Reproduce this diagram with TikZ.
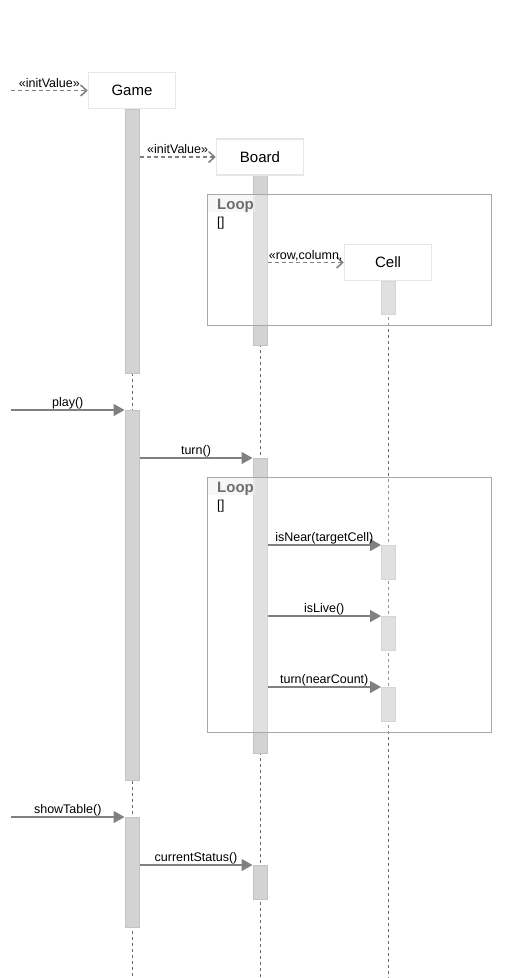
\documentclass[tikz,border=0pt]{standalone}
\usepackage{fontspec}
\setmainfont{Liberation Sans}
\usetikzlibrary{arrows.meta}
\definecolor{linegray}{HTML}{808080}
\definecolor{barfill}{HTML}{D3D3D3}
\definecolor{bardraw}{HTML}{C4C4C4}
\definecolor{boxdraw}{HTML}{E6E6E6}
\definecolor{framedraw}{HTML}{A8A8A8}
\definecolor{looptext}{HTML}{6E6E6E}
\definecolor{lifecol}{HTML}{6A6A6A}
\definecolor{loopbg}{HTML}{F2F2F2}
\pgfdeclarelayer{fg}
\pgfsetlayers{main,fg}
\begin{document}
\begin{tikzpicture}[x=1pt,y=-1pt,
 actor/.style={draw=boxdraw, line width=1.5pt, fill=white, minimum width=87pt, minimum height=36pt, inner sep=0, font=\fontsize{15}{18}\selectfont},
 bar/.style={draw=bardraw, fill=barfill, line width=1pt, minimum width=14pt, inner sep=0, anchor=north},
 lifeline/.style={draw=lifecol, line width=0.8pt, dash pattern=on 3pt off 3pt},
 msg/.style={draw=linegray, line width=1.6pt, -{Triangle[length=11pt,width=12pt]}},
 create/.style={draw=linegray, line width=1.5pt, dash pattern=on 4pt off 3pt, -{Straight Barb[length=6pt,width=11pt]}},
 lbl/.style={font=\fontsize{12.5}{14}\selectfont, anchor=base, inner sep=0, yshift=3.5pt},
 frame/.style={draw=framedraw, line width=1pt, fill=white, fill opacity=0.3, anchor=north west, inner sep=0},
 looplbl/.style={anchor=base west, inner sep=0, font=\bfseries\fontsize{15}{18}\selectfont, text=looptext},
 guard/.style={anchor=base west, inner sep=0, font=\fontsize{13}{15}\selectfont},
]
\useasboundingbox (0,0) rectangle (532,978);

% actors (foreground layer)
\begin{pgfonlayer}{fg}
\node[actor] (game) at (132,90.5) {Game};
\node[actor] (board) at (260,157) {Board};
\node[actor] (cell) at (388,262.5) {Cell};
\end{pgfonlayer}

% lifelines
\draw[lifeline] (game.south) -- (game.south |- 0,978);
\draw[lifeline] (board.south) -- (board.south |- 0,978);
\draw[lifeline] (cell.south) -- (cell.south |- 0,978);

% activation bars
\node[bar, minimum height=264pt] (g1) at (132,109) {};
\node[bar, minimum height=370pt] (g2) at (132,410) {};
\node[bar, minimum height=110pt] (g3) at (132,817) {};
\node[bar, minimum height=170pt] (b1) at (260,175) {};
\node[bar, minimum height=295pt] (b2) at (260,458) {};
\node[bar, minimum height=34pt] (b3) at (260,865) {};
\node[bar, minimum height=33pt] (c1) at (388.5,281) {};
\node[bar, minimum height=34pt] (c2) at (388.5,545) {};
\node[bar, minimum height=34pt] (c3) at (388.5,616) {};
\node[bar, minimum height=34pt] (c4) at (388.5,687) {};

% loop frames
\node[frame, minimum width=284pt, minimum height=131pt] (loop1) at (207,194) {};
\fill[loopbg, opacity=0.6] (207.5,194.5) rectangle (255,212);
\node[looplbl] (loop1t) at (217,209) {Loop};
\node[guard] (loop1g) at (217,226) {[]};

\node[frame, minimum width=284pt, minimum height=255pt] (loop2) at (207,477) {};
\fill[loopbg, opacity=0.6] (207.5,477.5) rectangle (255,495);
\node[looplbl] (loop2t) at (217,492) {Loop};
\node[guard] (loop2g) at (217,509) {[]};

% external start points
\coordinate (e0) at (11,90.5);
\coordinate (e1) at (11,410);
\coordinate (e2) at (11,817);

% messages
\draw[create] (e0) -- node[lbl] {«initValue»} (game.west);
\draw[create] (g1.east |- board.west) -- node[lbl] {«initValue»} (board.west);
\draw[create] (b1.east |- cell.west) -- node[lbl] {«row,column,} (cell.west);

\draw[msg] (e1) -- node[lbl] {play()} (g2.north west);
\draw[msg] (g2.east |- b2.north) -- node[lbl] {turn()} (b2.north west);
\draw[msg] (b2.east |- c2.north) -- node[lbl] {isNear(targetCell)} (c2.north west);
\draw[msg] (b2.east |- c3.north) -- node[lbl] {isLive()} (c3.north west);
\draw[msg] (b2.east |- c4.north) -- node[lbl] {turn(nearCount)} (c4.north west);

\draw[msg] (e2) -- node[lbl] {showTable()} (g3.north west);
\draw[msg] (g3.east |- b3.north) -- node[lbl] {currentStatus()} (b3.north west);
\end{tikzpicture}
\end{document}
